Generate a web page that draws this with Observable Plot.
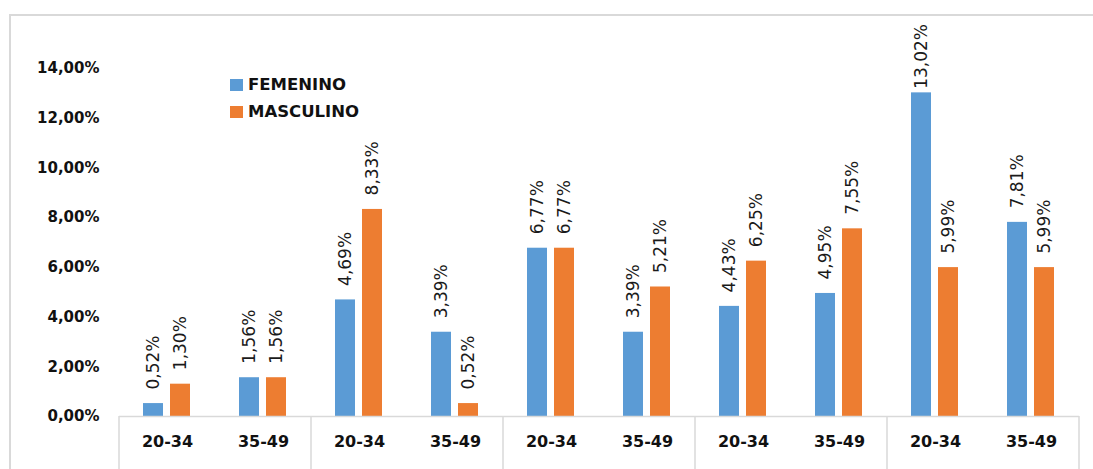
<!DOCTYPE html>
<html>
<head>
<meta charset="utf-8">
<script src="https://cdn.jsdelivr.net/npm/d3@7"></script>
<script src="https://cdn.jsdelivr.net/npm/@observablehq/plot@0.6"></script>
<style>
  html, body { margin: 0; padding: 0; background: #fff; }
  #wrap { position: relative; width: 1093px; height: 469px; overflow: hidden; }
  #border { position: absolute; left: 9px; top: 14px; width: 1100px; height: 500px; border-left: 2px solid #d9d9d9; border-top: 2px solid #d9d9d9; box-sizing: border-box; pointer-events: none; }
  #legend { position: absolute; left: 230px; top: 71px; font-family: "DejaVu Sans", sans-serif; font-weight: bold; font-size: 16.5px; color: #111; }
  #legend .item { display: flex; align-items: center; height: 27px; }
  #legend .sw { width: 13px; height: 12px; margin-right: 5px; }
</style>
</head>
<body>
<div id="wrap">
  <div id="chart"></div>
  <div id="border"></div>
  <div id="legend"></div>
</div>
<script>
const ageGroups = ["20-34", "35-49", "20-34", "35-49", "20-34", "35-49", "20-34", "35-49", "20-34", "35-49"];
const series = ["FEMENINO", "MASCULINO"];
const femenino = [0.52, 1.56, 4.69, 3.39, 6.77, 3.39, 4.43, 4.95, 13.02, 7.81];
const masculino = [1.30, 1.56, 8.33, 0.52, 6.77, 5.21, 6.25, 7.55, 5.99, 5.99];
const yTicks = [0, 2, 4, 6, 8, 10, 12, 14];
const colors = ["#5B9BD5", "#ED7D31"];

const data = [];
ageGroups.forEach((g, i) => {
  data.push({cat: i, sex: series[0], value: femenino[i]});
  data.push({cat: i, sex: series[1], value: masculino[i]});
});

const fmt = v => v.toFixed(2).replace(".", ",") + "%";
const yMax = d3.max(yTicks);

const chart = Plot.plot({
  width: 1093,
  height: 469,
  marginLeft: 117,
  marginRight: 12,
  marginTop: 68,
  marginBottom: 53,
  style: {fontFamily: "DejaVu Sans, sans-serif", background: "transparent"},
  fx: {domain: d3.range(ageGroups.length), padding: 0, label: null, axis: null},
  x: {domain: series, paddingInner: 0.25, paddingOuter: 0.846, axis: null, label: null},
  y: {domain: [0, yMax], axis: null, label: null},
  color: {domain: series, range: colors},
  marks: [
    Plot.axisY({ticks: yTicks, tickSize: 0, tickPadding: 20, tickFormat: fmt, fontSize: 15, fontWeight: "bold", fill: "#111", label: null}),
    Plot.axisFx({anchor: "bottom", tickSize: 0, tickPadding: 19, tickFormat: i => ageGroups[i], fontSize: 16, fontWeight: "bold", fill: "#111", label: null}),
    Plot.barY(data, {fx: "cat", x: "sex", y: "value", fill: "sex"}),
    Plot.ruleY([0], {stroke: "#d9d9d9", strokeWidth: 1.5}),
    Plot.text(data.filter(d => d.value < 12), {fx: "cat", x: "sex", y: "value", text: d => fmt(d.value), rotate: -90, textAnchor: "start", dy: -14, fontSize: 17, fill: "#1a1a1a"}),
    Plot.text(data.filter(d => d.value >= 12), {fx: "cat", x: "sex", y: "value", text: d => fmt(d.value), rotate: -90, textAnchor: "start", dy: -4, fontSize: 17, fill: "#1a1a1a"})
  ]
});

document.getElementById("chart").appendChild(chart);

// table separators between age pairs, positioned from the fx scale
const fxScale = chart.scale("fx");
const bw = fxScale.bandwidth;
const svg = d3.select(chart);
const y0 = chart.scale("y").apply(0);
const bounds = [];
for (let i = 0; i < ageGroups.length; i += 2) bounds.push(fxScale.apply(i));
bounds.push(fxScale.apply(ageGroups.length - 1) + bw);
svg.append("g").selectAll("line").data(bounds).join("line")
  .attr("x1", d => d).attr("x2", d => d)
  .attr("y1", y0).attr("y2", 469)
  .attr("stroke", "#d9d9d9").attr("stroke-width", 1.5);

// legend
const legend = d3.select("#legend");
series.forEach((s, i) => {
  const it = legend.append("div").attr("class", "item");
  it.append("div").attr("class", "sw").style("background", colors[i]);
  it.append("span").text(s);
});
</script>
</body>
</html>
